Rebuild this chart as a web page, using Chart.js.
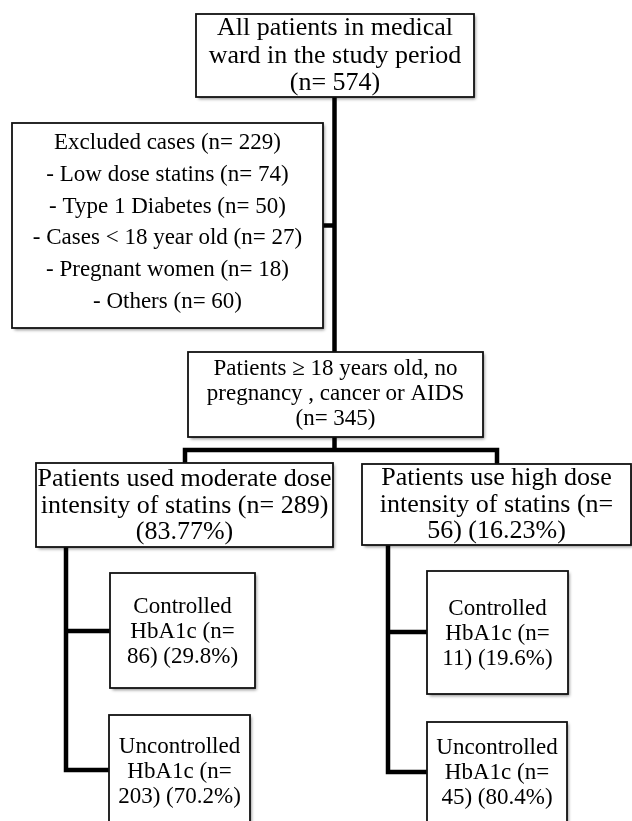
<!DOCTYPE html>
<html>
<head>
<meta charset="utf-8">
<script src="https://cdn.jsdelivr.net/npm/chart.js@4/dist/chart.umd.min.js"></script>
<style>
  html, body { margin: 0; padding: 0; background: #ffffff; }
  #wrap { width: 632px; height: 821px; }
</style>
</head>
<body>
<div id="wrap"><canvas id="c" width="632" height="821"></canvas></div>
<script>
const totalPatients = 574;
const excludedTotal = 229;
const excludedReasons = ['Low dose statins', 'Type 1 Diabetes', 'Cases < 18 year old', 'Pregnant women', 'Others'];
const excludedCounts = [74, 50, 27, 18, 60];
const eligibleCount = 345;
const doseGroupCounts = [289, 56];
const doseGroupPercents = ['83.77', '16.23'];
const controlledCounts = [86, 11];
const controlledPercents = ['29.8', '19.6'];
const uncontrolledCounts = [203, 45];
const uncontrolledPercents = ['70.2', '80.4'];

// ---- box texts built from the data ----
const boxTexts = {
  top: ['All patients in medical', 'ward in the study period', '(n= ' + totalPatients + ')'],
  excluded: ['Excluded cases (n= ' + excludedTotal + ')'].concat(
    excludedReasons.map((r, i) => '- ' + r + ' (n= ' + excludedCounts[i] + ')')),
  eligible: ['Patients \u2265 18 years old, no', 'pregnancy , cancer or AIDS', '(n= ' + eligibleCount + ')'],
  moderate: ['Patients used moderate dose', 'intensity of statins (n= ' + doseGroupCounts[0] + ')', '(' + doseGroupPercents[0] + '%)'],
  high: ['Patients use high dose', 'intensity of statins (n=', doseGroupCounts[1] + ') (' + doseGroupPercents[1] + '%)'],
  modCtrl: ['Controlled', 'HbA1c (n=', controlledCounts[0] + ') (' + controlledPercents[0] + '%)'],
  modUnctrl: ['Uncontrolled', 'HbA1c (n=', uncontrolledCounts[0] + ') (' + uncontrolledPercents[0] + '%)'],
  highCtrl: ['Controlled', 'HbA1c (n=', controlledCounts[1] + ') (' + controlledPercents[1] + '%)'],
  highUnctrl: ['Uncontrolled', 'HbA1c (n=', uncontrolledCounts[1] + ') (' + uncontrolledPercents[1] + '%)']
};

// ---- layout (scale units) ----
const boxLayout = [
  { key: 'top',        x0: 196, x1: 474, y0: 14,  y1: 97,  size: 26, base: 35,  lh: 27.5 },
  { key: 'excluded',   x0: 12,  x1: 323, y0: 123, y1: 328, size: 23, base: 149, lh: 31.8 },
  { key: 'eligible',   x0: 188, x1: 483, y0: 352, y1: 437, size: 23, base: 375, lh: 25 },
  { key: 'moderate',   x0: 36,  x1: 333, y0: 463, y1: 547, size: 26, base: 486, lh: 26.5 },
  { key: 'high',       x0: 362, x1: 631, y0: 464, y1: 545, size: 26, base: 485, lh: 26.5 },
  { key: 'modCtrl',    x0: 110, x1: 255, y0: 573, y1: 688, size: 23, base: 613, lh: 25 },
  { key: 'modUnctrl',  x0: 109, x1: 250, y0: 715, y1: 840, size: 23, base: 753, lh: 25 },
  { key: 'highCtrl',   x0: 427, x1: 568, y0: 571, y1: 694, size: 23, base: 615, lh: 25 },
  { key: 'highUnctrl', x0: 427, x1: 567, y0: 722, y1: 840, size: 23, base: 754, lh: 25 }
];
const connectorPaths = [
  [[334.5, 97], [334.5, 352]],
  [[323, 225.5], [334.5, 225.5]],
  [[334.5, 437], [334.5, 450]],
  [[185, 463], [185, 450], [497, 450], [497, 464]],
  [[66, 547], [66, 770], [109, 770]],
  [[66, 631], [110, 631]],
  [[388, 545], [388, 772], [427, 772]],
  [[388, 632], [427, 632]]
];

const flowPlugin = {
  id: 'flow',
  afterDraw(chart) {
    const ctx = chart.ctx;
    const sx = chart.scales.x, sy = chart.scales.y;
    const X = v => sx.getPixelForValue(v);
    const Y = v => sy.getPixelForValue(v);
    ctx.save();
    // connectors
    ctx.strokeStyle = '#000';
    ctx.lineWidth = 4.5;
    ctx.lineJoin = 'miter';
    ctx.lineCap = 'butt';
    connectorPaths.forEach(p => {
      ctx.beginPath();
      p.forEach((pt, i) => {
        if (i === 0) ctx.moveTo(X(pt[0]), Y(pt[1]));
        else ctx.lineTo(X(pt[0]), Y(pt[1]));
      });
      ctx.stroke();
    });
    // boxes
    boxLayout.forEach(b => {
      const x0 = X(b.x0), x1 = X(b.x1), y0 = Y(b.y0), y1 = Y(b.y1);
      ctx.save();
      ctx.shadowColor = 'rgba(0,0,0,0.45)';
      ctx.shadowBlur = 3;
      ctx.shadowOffsetX = 1.5;
      ctx.shadowOffsetY = 2;
      ctx.fillStyle = '#fff';
      ctx.fillRect(x0, y0, x1 - x0, y1 - y0);
      ctx.restore();
      ctx.strokeStyle = '#111';
      ctx.lineWidth = 1.8;
      ctx.strokeRect(x0, y0, x1 - x0, y1 - y0);
      ctx.fillStyle = '#000';
      ctx.font = b.size + 'px "Liberation Serif", "Times New Roman", serif';
      ctx.textAlign = 'center';
      ctx.textBaseline = 'alphabetic';
      const cx = (x0 + x1) / 2;
      boxTexts[b.key].forEach((t, i) => {
        ctx.fillText(t, cx, Y(b.base + i * b.lh));
      });
    });
    ctx.restore();
  }
};

new Chart(document.getElementById('c'), {
  type: 'scatter',
  data: { datasets: [{ data: [], pointRadius: 0 }] },
  options: {
    responsive: false,
    animation: false,
    events: [],
    layout: { padding: 0 },
    plugins: { legend: { display: false }, tooltip: { enabled: false }, title: { display: false } },
    scales: {
      x: { type: 'linear', min: 0, max: 632, display: false },
      y: { type: 'linear', min: 0, max: 821, reverse: true, display: false }
    }
  },
  plugins: [flowPlugin]
});
</script>
</body>
</html>
